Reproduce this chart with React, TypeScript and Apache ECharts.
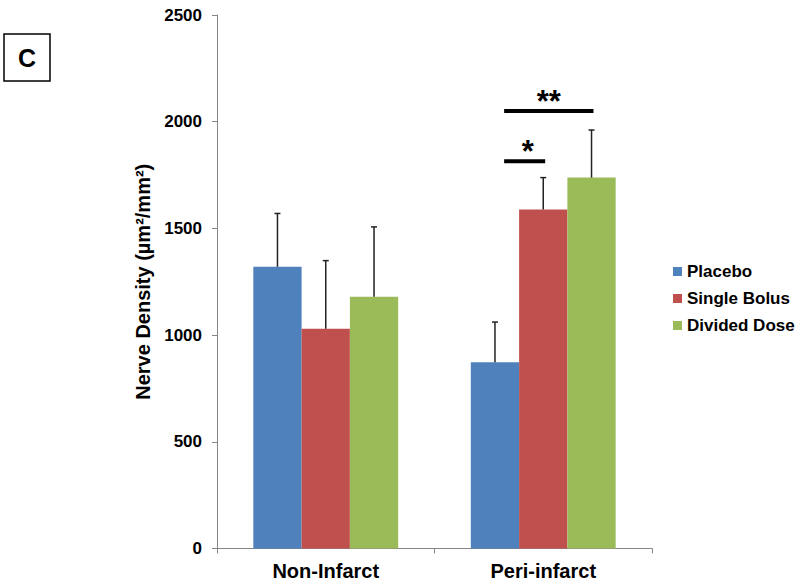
import React, { useEffect, useRef } from "react";
import * as echarts from "echarts";

const categories = ["Non-Infarct", "Peri-infarct"];
const seriesNames = ["Placebo", "Single Bolus", "Divided Dose"];
const placebo = [1320, 873];
const singleBolus = [1030, 1588];
const dividedDose = [1180, 1738];
const placeboErr = [250, 188];
const singleBolusErr = [319, 150];
const dividedDoseErr = [327, 223];
const colors = ["#4F81BD", "#C0504D", "#9BBB59"];
// significance brackets: [categoryIndex, fromSeries, toSeries, yValue]
const sigBrackets = [
  [1, 0, 1, 1815],
  [1, 0, 2, 2050],
];
const sigLabels = ["*", "**"];
const yTicks = [0, 500, 1000, 1500, 2000, 2500];

const FONT = "Arial, 'Liberation Sans', sans-serif";
const BAR_FRAC = 0.222;

export default function App() {
  const ref = useRef<HTMLDivElement>(null);
  useEffect(() => {
    if (!ref.current) return;
    const chart = echarts.init(ref.current, null, { renderer: "svg" });
    const means = [placebo, singleBolus, dividedDose];
    const errs = [placeboErr, singleBolusErr, dividedDoseErr];
    const errData: number[][] = [];
    means.forEach((arr, s) =>
      arr.forEach((m, c) => errData.push([c, s, m, errs[s][c]]))
    );
    const barSeries = seriesNames.map((name, i) => ({
      name,
      type: "bar",
      data: means[i],
      barWidth: "22.2%",
      barGap: "0%",
      itemStyle: { color: colors[i] },
    }));
    chart.setOption({
      animation: false,
      textStyle: { fontFamily: FONT },
      grid: { left: 217, right: 148, top: 15, bottom: 37.5, containLabel: false },
      legend: {
        data: seriesNames,
        orient: "vertical",
        left: 668,
        top: 258,
        itemWidth: 9,
        itemHeight: 9,
        itemGap: 10,
        icon: "rect",
        textStyle: { fontFamily: FONT, fontSize: 17, fontWeight: "bold", color: "#000", lineHeight: 17 },
      },
      xAxis: {
        type: "category",
        data: categories,
        axisLine: { lineStyle: { color: "#868686", width: 1 } },
        axisTick: { show: true, length: 5, lineStyle: { color: "#868686" } },
        axisLabel: { fontFamily: FONT, fontSize: 20, fontWeight: "bold", color: "#000", margin: 12 },
      },
      yAxis: {
        type: "value",
        min: yTicks[0],
        max: yTicks[yTicks.length - 1],
        interval: 500,
        name: "Nerve Density (µm²/mm²)",
        nameLocation: "middle",
        nameGap: 55,
        nameTextStyle: { fontFamily: FONT, fontSize: 20, fontWeight: "bold", color: "#000" },
        axisLine: { show: true, lineStyle: { color: "#868686", width: 1 } },
        axisTick: { show: true, length: 5, lineStyle: { color: "#868686" } },
        splitLine: { show: false },
        axisLabel: {
          fontFamily: FONT,
          fontSize: 17,
          fontWeight: "bold",
          color: "#000",
          margin: 15,
          formatter: (v: number) => String(v),
        },
      },
      graphic: [
        {
          type: "rect",
          shape: { x: 4, y: 34, width: 46, height: 47 },
          style: { fill: "#fff", stroke: "#000", lineWidth: 1.5 },
        },
        {
          type: "text",
          x: 27,
          y: 58,
          style: {
            text: "C",
            fontFamily: FONT,
            fontSize: 25,
            fontWeight: "bold",
            fill: "#000",
            align: "center",
            verticalAlign: "middle",
          },
        },
      ],
      series: [
        ...barSeries,
        {
          type: "custom",
          name: "errors",
          data: errData,
          encode: { x: 0, y: 2 },
          z: 5,
          renderItem: (params: any, api: any) => {
            const c = api.value(0);
            const s = api.value(1);
            const m = api.value(2);
            const e = api.value(3);
            const band = api.size([1, 0])[0];
            const bw = band * BAR_FRAC;
            const p0 = api.coord([c, m]);
            const p1 = api.coord([c, m + e]);
            const x = p0[0] + (s - 1) * bw;
            const style = { stroke: "#222", lineWidth: 1.5 };
            return {
              type: "group",
              children: [
                { type: "line", shape: { x1: x, y1: p0[1], x2: x, y2: p1[1] }, style },
                { type: "line", shape: { x1: x - 3, y1: p1[1], x2: x + 3, y2: p1[1] }, style },
              ],
            };
          },
        },
        {
          type: "custom",
          name: "significance",
          data: sigBrackets,
          encode: { x: 0, y: 3 },
          z: 5,
          renderItem: (params: any, api: any) => {
            const c = api.value(0);
            const from = api.value(1);
            const to = api.value(2);
            const yv = api.value(3);
            const band = api.size([1, 0])[0];
            const bw = band * BAR_FRAC;
            const p = api.coord([c, yv]);
            const x1 = p[0] + (from - 1) * bw + 0.19 * bw;
            const x2 = p[0] + (to - 1) * bw + 0.04 * bw;
            return {
              type: "group",
              children: [
                {
                  type: "rect",
                  shape: { x: x1, y: p[1] - 2, width: x2 - x1, height: 4 },
                  style: { fill: "#000" },
                },
                {
                  type: "text",
                  x: (x1 + x2) / 2 + (to === 1 ? 3 : 0),
                  y: p[1] - 25,
                  style: {
                    text: sigLabels[params.dataIndex],
                    fontFamily: FONT,
                    fontSize: 31,
                    fontWeight: "bold",
                    fill: "#000",
                    align: "center",
                    verticalAlign: "top",
                  },
                },
              ],
            };
          },
        },
      ],
    });
    return () => chart.dispose();
  }, []);
  return <div ref={ref} style={{ width: 800, height: 586, position: "absolute", left: 0, top: 0 }} />;
}
